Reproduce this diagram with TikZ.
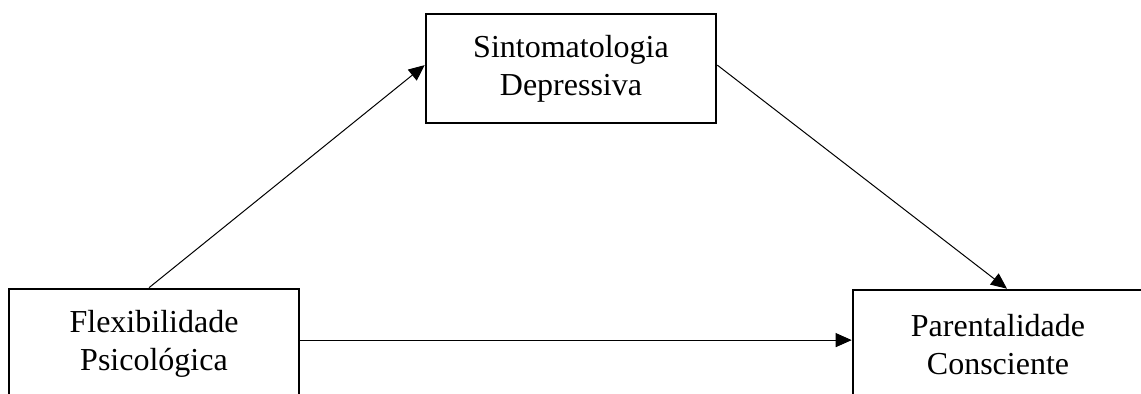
\documentclass[tikz,border=0pt]{standalone}
\usepackage{fontspec}
\setmainfont{Liberation Serif}
\usetikzlibrary{arrows.meta}

\tikzset{
  varbox/.style={draw, line width=1.3pt, minimum width=145pt, minimum height=54.5pt,
    inner sep=0pt, align=center, font=\fontsize{16}{19}\selectfont},
  seta/.style={-{Triangle[length=8pt, width=7pt]}, line width=0.5pt}
}

\begin{document}
\begin{tikzpicture}[x=0.5pt, y=-0.5pt]
            % Cadre de la figure
            \useasboundingbox (0,0) rectangle (1141,393);
            \clip (0,0) rectangle (1141,393);

            % Coordonnées des centres
            \coordinate (Csint) at (571,68.5);
            \coordinate (Cflex) at (154,343.5);
            \coordinate (Cpar) at (998,344.5);

            % Variables
            \node[varbox] (sint) at (Csint) {Sintomatologia\\Depressiva};
            \node[varbox] (flex) at (Cflex) {Flexibilidade\\Psicológica};
            \node[varbox] (par) at (Cpar) {Parentalidade\\Consciente};

            % Chemins a, b et c
            \draw[seta] ([xshift=-2.5pt]flex.north) -- ([yshift=1.7pt]sint.west);
            \draw[seta] ([yshift=1.7pt]sint.east) -- ([xshift=4.5pt]par.north);
            \draw[seta] ([yshift=1.7pt]flex.east) -- ([yshift=2.2pt]par.west);

        \end{tikzpicture}
\end{document}
